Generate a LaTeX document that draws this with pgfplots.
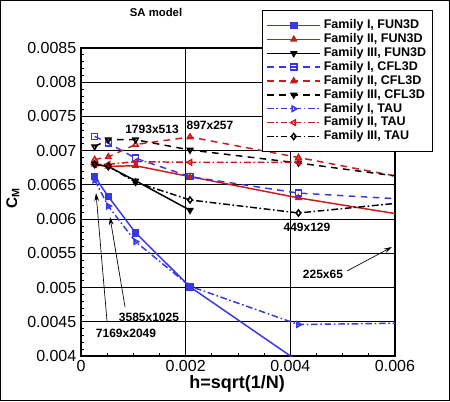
\documentclass[border=0pt]{standalone}
\usepackage{fontspec}
\setmainfont{Liberation Sans}
\usepackage{pgfplots}
\pgfplotsset{compat=1.18}
\usetikzlibrary{arrows.meta}
\definecolor{tblue}{RGB}{55,55,230}
\definecolor{tred}{RGB}{205,25,25}
\begin{document}
\begin{tikzpicture}
\useasboundingbox (0,0) rectangle (337.5pt,300.75pt);
\draw[line width=0.75pt] (0.375pt,0.375pt) rectangle (337.125pt,300.375pt);
\begin{axis}[
  at={(60.75pt,33.75pt)}, anchor=south west,
  scale only axis, width=235.5pt, height=231pt,
  xmin=0, xmax=0.006, ymin=0.004, ymax=0.0085,
  xtick={0,0.002,0.004,0.006},
  ytick={0.004,0.0045,0.005,0.0055,0.006,0.0065,0.007,0.0075,0.008,0.0085},
  minor x tick num=3, minor y tick num=4,
  tick align=inside, xtick pos=bottom, ytick pos=left,
  major tick length=4.5pt, minor tick length=2.5pt,
  every tick/.style={black, line width=0.6pt},
  grid=major, major grid style={black, line width=0.6pt},
  axis line style={line width=1.5pt},
  scaled ticks=false,
  xticklabel style={/pgf/number format/fixed, /pgf/number format/precision=3},
  yticklabel style={/pgf/number format/fixed, /pgf/number format/precision=4},
  /pgf/number format/assume math mode=true,
  tick label style={font=\fontsize{12}{12}\selectfont},
  xlabel={\bfseries h=sqrt(1/N)},
  xlabel style={font=\fontsize{13.5}{14}\selectfont, at={(axis description cs:0.497,-0.091)}, anchor=center},
  ylabel={\bfseries C\textsubscript{M}},
  ylabel style={font=\fontsize{11.5}{12}\selectfont, at={(axis description cs:-0.217,0.513)}, anchor=center},
  title={\bfseries SA model},
  title style={font=\fontsize{8.5}{10}\selectfont, at={(axis description cs:0.239,1.088)}, anchor=center},
  legend style={at={(axis description cs:0.576,1.123)}, anchor=north west, draw=black, line width=0.75pt, fill=white,
    font=\bfseries\fontsize{9.4}{10}\selectfont, row sep=0pt, inner xsep=3pt, inner ysep=6pt,
    nodes={inner ysep=1.1pt, text height=6.6pt, text depth=1.6pt}},
  legend cell align=left,
  legend image code/.code={\draw[mark repeat=2,mark phase=2] plot coordinates {(0pt,0pt) (20pt,0pt) (40pt,0pt)};},
  every axis plot/.append style={line width=1.1pt, mark size=2.3pt},
]
% FUN3D
\addplot[tblue, solid, mark=square*, mark options={solid, fill=tblue}] coordinates {
 (0.0002609,0.00662) (0.0005217,0.00633) (0.0010427,0.00580) (0.0020828,0.00501) (0.0041551,0.00392)};
\addlegendentry{Family I, FUN3D}
\addplot[tred, solid, mark=triangle*, mark options={solid, fill=tred}] coordinates {
 (0.0002609,0.00680) (0.0005217,0.00677) (0.0010427,0.00678) (0.0020828,0.00662) (0.0041551,0.00631) (0.0082690,0.00580)};
\addlegendentry{Family II, FUN3D}
\addplot[black, solid, mark=triangle*, mark options={solid, fill=black, rotate=180}] coordinates {
 (0.0002609,0.00680) (0.0005217,0.00677) (0.0010427,0.00656) (0.0020828,0.00613)};
\addlegendentry{Family III, FUN3D}
% CFL3D
\addplot[tblue, dash pattern=on 5pt off 4pt, mark=square, mark options={solid, fill=white}] coordinates {
 (0.0002609,0.00721) (0.0005217,0.00711) (0.0010427,0.00689) (0.0020828,0.00662) (0.0041551,0.00638) (0.0082690,0.00620)};
\addlegendentry{Family I, CFL3D}
\addplot[tred, dash pattern=on 5pt off 4pt, mark=triangle, mark options={solid, fill=white}] coordinates {
 (0.0002609,0.00687) (0.0005217,0.00691) (0.0010427,0.00709) (0.0020828,0.00720) (0.0041551,0.00690) (0.0082690,0.00630)};
\addlegendentry{Family II, CFL3D}
\addplot[black, dash pattern=on 5pt off 4pt, mark=triangle, mark options={solid, fill=white, rotate=180}] coordinates {
 (0.0002609,0.00706) (0.0005217,0.00716) (0.0010427,0.00716) (0.0020828,0.00701) (0.0041551,0.00682) (0.0082690,0.00640)};
\addlegendentry{Family III, CFL3D}
% TAU
\addplot[tblue, dash pattern=on 5pt off 2pt on 1.2pt off 2pt, mark=triangle, mark options={solid, fill=white, rotate=-90}] coordinates {
 (0.0002609,0.00657) (0.0005217,0.00619) (0.0010427,0.00567) (0.0020828,0.00502) (0.0041551,0.00446) (0.0082690,0.00450)};
\addlegendentry{Family I, TAU}
\addplot[tred, dash pattern=on 5pt off 2pt on 1.2pt off 2pt, mark=triangle, mark options={solid, fill=white, rotate=90}] coordinates {
 (0.0002609,0.00680) (0.0005217,0.00680) (0.0010427,0.00684) (0.0020828,0.00683) (0.0041551,0.00683)};
\addlegendentry{Family II, TAU}
\addplot[black, dash pattern=on 5pt off 2pt on 1.2pt off 2pt, mark=diamond, mark options={solid, fill=white}] coordinates {
 (0.0002609,0.00680) (0.0005217,0.00677) (0.0010427,0.00654) (0.0020828,0.00628) (0.0041551,0.00609) (0.0082690,0.00640)};
\addlegendentry{Family III, TAU}
% annotations
\node[font=\bfseries\fontsize{9}{10}\selectfont] at (axis cs:0.001357,0.007317) {1793x513};
\node[font=\bfseries\fontsize{9}{10}\selectfont] at (axis cs:0.002465,0.007375) {897x257};
\node[font=\bfseries\fontsize{9}{10}\selectfont] at (axis cs:0.004318,0.005885) {449x129};
\node[font=\bfseries\fontsize{9}{10}\selectfont] at (axis cs:0.004624,0.005198) {225x65};
\node[font=\bfseries\fontsize{9}{10}\selectfont] at (axis cs:0.001299,0.004570) {3585x1025};
\node[font=\bfseries\fontsize{9}{10}\selectfont] at (axis cs:0.000860,0.004336) {7169x2049};
\draw[line width=0.5pt, -{Stealth[length=6pt,width=3.5pt]}] (axis cs:0.005083,0.005242) -- (axis cs:0.005943,0.005593);
\draw[line width=0.5pt, -{Stealth[length=6pt,width=3.5pt]}] (axis cs:0.000841,0.004716) -- (axis cs:0.000554,0.006031);
\draw[line width=0.5pt, -{Stealth[length=6pt,width=3.5pt]}] (axis cs:0.000497,0.004511) -- (axis cs:0.000287,0.006381);
\end{axis}
\end{tikzpicture}
\end{document}
